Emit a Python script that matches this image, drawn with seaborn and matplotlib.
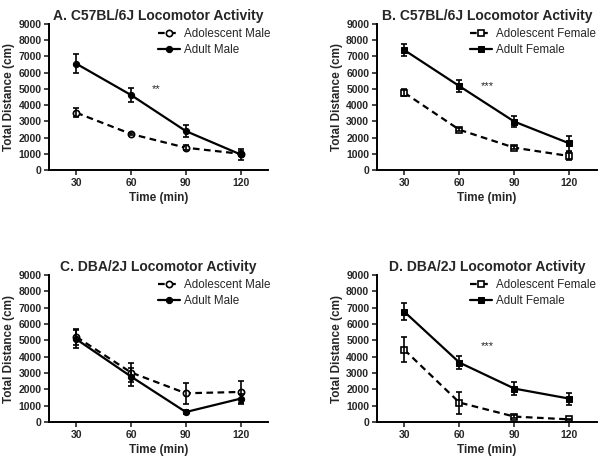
import numpy as np
import pandas as pd
import matplotlib.pyplot as plt
import seaborn as sns

time = [30, 60, 90, 120]

# panel A - C57BL/6J males
a_adol = [3530, 2220, 1375, 1000]
a_adol_err = [280, 80, 150, 150]
a_adult = [6550, 4620, 2400, 960]
a_adult_err = [600, 430, 360, 350]

# panel B - C57BL/6J females
b_adol = [4760, 2480, 1375, 860]
b_adol_err = [220, 100, 80, 250]
b_adult = [7390, 5170, 2980, 1640]
b_adult_err = [370, 350, 330, 450]

# panel C - DBA/2J males
c_adol = [5215, 3030, 1760, 1840]
c_adol_err = [470, 600, 630, 650]
c_adult = [5070, 2780, 610, 1430]
c_adult_err = [560, 550, 100, 300]

# panel D - DBA/2J females
d_adol = [4420, 1190, 330, 160]
d_adol_err = [770, 670, 100, 50]
d_adult = [6750, 3640, 2045, 1430]
d_adult_err = [520, 410, 400, 360]

titles = ['A. C57BL/6J Locomotor Activity', 'B. C57BL/6J Locomotor Activity',
          'C. DBA/2J Locomotor Activity', 'D. DBA/2J Locomotor Activity']
sex = ['Male', 'Female', 'Male', 'Female']
stars = ['**', '***', None, '***']
star_pos = [(74, 5000), (75, 5150), None, (75, 4650)]

panels = [(a_adol, a_adol_err, a_adult, a_adult_err),
          (b_adol, b_adol_err, b_adult, b_adult_err),
          (c_adol, c_adol_err, c_adult, c_adult_err),
          (d_adol, d_adol_err, d_adult, d_adult_err)]

sns.set_style('ticks')
plt.rcParams['font.family'] = ['Liberation Sans', 'DejaVu Sans']

fig = plt.figure(figsize=(6.03, 4.62), dpi=100)
rects = [[0.0813, 0.632, 0.363, 0.316],
         [0.625, 0.632, 0.365, 0.316],
         [0.0813, 0.0866, 0.363, 0.318],
         [0.625, 0.0866, 0.365, 0.318]]
leg_x = [1.01, 0.995, 1.01, 0.995]

for i, (adol, adol_err, adult, adult_err) in enumerate(panels):
    ax = fig.add_axes(rects[i])
    mk = 'o' if sex[i] == 'Male' else 's'
    df = pd.DataFrame({'Time': time, 'adol': adol, 'adult': adult})

    sns.lineplot(data=df, x='Time', y='adol', ax=ax, color='black', lw=1.6,
                 linestyle=(0, (3, 2)), marker=mk, markersize=4.5,
                 markerfacecolor='white', markeredgecolor='black', markeredgewidth=1.2,
                 label='Adolescent ' + sex[i])
    sns.lineplot(data=df, x='Time', y='adult', ax=ax, color='black', lw=1.6,
                 marker=mk, markersize=4.5, markerfacecolor='black',
                 markeredgecolor='black', label='Adult ' + sex[i])
    ax.errorbar(time, adol, yerr=adol_err, fmt='none', ecolor='black',
                elinewidth=1.2, capsize=2.5, capthick=1.2)
    ax.errorbar(time, adult, yerr=adult_err, fmt='none', ecolor='black',
                elinewidth=1.2, capsize=2.5, capthick=1.2)

    ax.set_xlim(15, 135)
    ax.set_ylim(0, 9000)
    ax.set_xticks(time)
    ax.set_yticks(np.arange(0, 9001, 1000))
    ax.tick_params(labelsize=7.5, width=1.2, length=3.5, pad=2)
    for lab in ax.get_xticklabels() + ax.get_yticklabels():
        lab.set_fontweight('bold')
    for s in ['left', 'bottom']:
        ax.spines[s].set_linewidth(1.4)
        ax.spines[s].set_color('black')
    sns.despine(ax=ax)

    ax.set_title(titles[i], fontsize=10, fontweight='bold', pad=3)
    ax.set_xlabel('Time (min)', fontsize=8.5, fontweight='bold', labelpad=3)
    ax.set_ylabel('Total Distance (cm)', fontsize=8.5, fontweight='bold', labelpad=2)

    if stars[i]:
        ax.text(star_pos[i][0], star_pos[i][1], stars[i], fontsize=8, ha='center', va='center')

    ax.legend(loc='upper right', bbox_to_anchor=(leg_x[i], 0.975), frameon=False,
              fontsize=8.4, handlelength=1.9, handletextpad=0.3,
              labelspacing=0.4, borderpad=0, borderaxespad=0)

fig.savefig('out.png', dpi=100)
